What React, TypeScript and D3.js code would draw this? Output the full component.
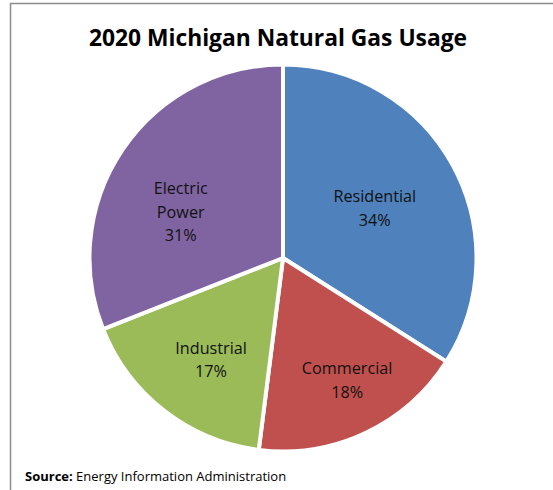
import React from "react";
import * as d3 from "d3";

const categories = ["Residential", "Commercial", "Industrial", "Electric Power"];
const shares = [34, 18, 17, 31];
const labelLines = [["Residential"], ["Commercial"], ["Industrial"], ["Electric", "Power"]];
const colors = ["#4F81BD", "#C0504D", "#9BBB59", "#8064A2"];
// layout: label distance from centre (fraction of radius) and angular shift (deg) from mid-angle
const labelRadiusFactor = [0.54, 0.713, 0.645, 0.58];
const labelAngleShift = [0.3, -2.5, -2.6, -9.9];

const W = 553;
const H = 490;
const cx = 283;
const cy = 258;
const R = 193.5;
const FONT = "'Open Sans', 'Noto Sans', sans-serif";

export default function App() {
  const pie = d3
    .pie<number>()
    .sort(null)
    .value((d) => d)
    .startAngle(0)
    .endAngle(2 * Math.PI);
  const arcs = pie(shares);
  const arc = d3.arc<d3.PieArcDatum<number>>().innerRadius(0).outerRadius(R);

  return (
    <svg
      width={W}
      height={H}
      style={{ position: "absolute", left: 0, top: 0, background: "#fff" }}
      fontFamily={FONT}
    >
      <rect x={10.5} y={3.5} width={W + 20} height={H + 20} fill="#fff" stroke="#8c8c8c" strokeWidth={1.5} />
      <text x={278} y={46} textAnchor="middle" fontSize={22.8} fontWeight="bold" fill="#000">
        2020 Michigan Natural Gas Usage
      </text>
      <g transform={`translate(${cx},${cy})`}>
        {arcs.map((a, i) => (
          <path key={categories[i]} d={arc(a) || ""} fill={colors[i]} stroke="#fff" strokeWidth={4} strokeLinejoin="round" />
        ))}
        {arcs.map((a, i) => {
          const mid = (a.startAngle + a.endAngle) / 2 + (labelAngleShift[i] * Math.PI) / 180;
          const r = R * labelRadiusFactor[i];
          const x = Math.sin(mid) * r;
          const y = -Math.cos(mid) * r;
          const lines = [...labelLines[i], `${shares[i]}%`];
          const lh = 23.5;
          const y0 = y - ((lines.length - 1) * lh) / 2;
          return (
            <text key={categories[i]} textAnchor="middle" fontSize={16.2} fill="#111">
              {lines.map((l, j) => (
                <tspan key={j} x={x} y={y0 + j * lh} dy="0.35em">
                  {l}
                </tspan>
              ))}
            </text>
          );
        })}
      </g>
      <text x={25} y={481} fontSize={13} fill="#000">
        <tspan fontWeight="bold">Source:</tspan> Energy Information Administration
      </text>
    </svg>
  );
}
